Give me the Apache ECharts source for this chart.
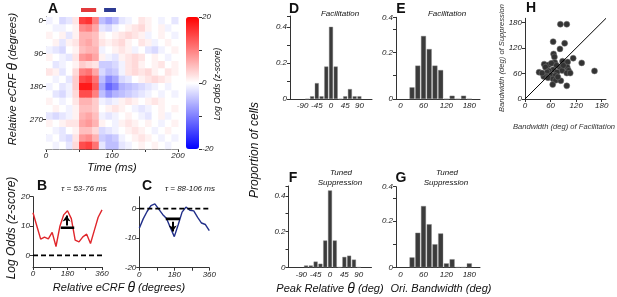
<!DOCTYPE html>
<html><head><meta charset="utf-8">
<script src="https://cdn.jsdelivr.net/npm/echarts@6.0.0/dist/echarts.min.js"></script>
<style>html,body{margin:0;padding:0;background:#fff}#c{width:617px;height:297px}</style>
</head><body><div id="c"></div>
<script>
// ---------- Panel A: heat map (rows = relative eCRF theta, columns = 10 ms time bins) ----------
const thetaRows = [0,20,40,60,80,100,120,140,160,180,200,220,240,260,280,300,320,340];
const timeBins = [0,10,20,30,40,50,60,70,80,90,100,110,120,130,140,150,160,170,180,190];
const heatValues = [
  [-1, 0,-3,-2, 2,15,16,10,-5,-7,-5,-2,-1, 0, 2, 1, 0,-1, 0,-2],
  [ 0,-1,-1, 0, 1, 9,10, 7,-2,-3,-1, 0, 1, 2, 3, 1, 0, 1,-1, 0],
  [ 1, 0, 1,-2, 1, 6, 6, 5, 1, 0, 1, 2, 3, 2, 1,-1, 0, 1, 0,-1],
  [ 0, 1,-2, 1, 2, 6, 7, 5, 2, 1, 2, 3, 1, 0, 2, 1,-1, 0, 1, 0],
  [-1,-2,-3, 0, 1, 5, 6, 6,-1, 0, 1, 2, 1,-1, 0,-2,-3,-1, 0, 1],
  [ 1, 0,-1,-2, 2, 8, 9, 7, 1,-1,-2, 1, 2, 3, 2, 0, 1, 0,-1, 0],
  [ 0,-2,-1, 0, 1, 4, 3, 2,-4,-4,-3,-1, 2, 3, 1, 0, 1, 2, 0, 1],
  [ 2, 1,-2, 0, 3,10,11, 7,-3,-5,-4,-1, 2, 3, 2, 3, 1, 0, 2, 1],
  [ 0,-1, 0,-2, 4,14,15,11,-5,-9,-7,-3,-2, 0, 1, 2, 3, 2, 1, 0],
  [-1, 0,-2,-1, 4,18,18,13,-7,-12,-10,-6,-5,-4,-3,-2,-1, 0,-1, 0],
  [ 0,-2,-3,-1, 3,14,14,10,-5,-8,-6,-5,-4,-3,-2,-1, 0,-1, 0,-1],
  [ 1, 0,-1, 0, 2, 6, 6, 4,-1,-2,-1, 1, 2, 1, 0, 1, 2, 1, 0, 0],
  [ 0, 1, 0,-1, 1, 5, 5, 4, 0, 1, 2, 1, 0,-1,-2,-1, 0, 1, 0, 1],
  [-2,-3,-2,-1, 1, 6, 7, 5,-1,-2,-1, 0, 1, 0,-1,-2, 0, 1,-1, 0],
  [ 1, 0, 1, 2, 2, 7, 8, 6, 1, 0,-1, 1, 2, 1, 0, 1, 0,-1, 0, 1],
  [ 0,-1,-2, 0, 1, 5, 5, 3,-3,-2,-1, 0, 1, 2, 1, 0,-1, 0, 1, 0],
  [-1, 0,-2,-3, 2, 8, 9, 6,-4,-5,-4,-1, 0, 1, 2, 1, 0,-1, 0,-1],
  [ 0,-1, 0,-2, 3,14,15,11,-2,-5,-5,-2,-1, 0, 1, 0, 1, 0,-1, 0]
];
const tauWindows = [[53,76],[88,106]];
const tauColors = ['#e23a3c','#2c3a92'];

// ---------- Panels B, C: tuning curves ----------
const tuningTheta = [0,20,40,60,80,100,120,140,160,180,200,220,240,260,280,300,320,340,360];
const tuningB = [14.5,10,5.5,6.2,5.6,7.8,3.0,9.8,13.8,15.2,12.5,5.2,4.6,6.3,7.2,4.0,8.5,13,15.5];
const tuningC = [-6.7,-3.5,-1,1,1.6,-0.2,-2,-3.4,-6.5,-9.5,-5.5,-1.2,0.5,-0.6,-0.8,-3,-4.9,-5.4,-7.5];
const bandB = [145,215,9.4];   // [theta from, theta to, level]
const arrowB = [175,10.2,13.6];// [theta, from, to]
const bandC = [136,209,-3.5];
const arrowC = [172,-4.5,-7.8];

// ---------- Panels D, F: peak relative theta histograms ----------
const peakBins = [-75,-60,-45,-30,-15,0,15,30,45,60,75,90];
const peakFacil = [0,0.015,0.088,0.015,0.18,0.40,0.18,0,0.015,0.055,0.015,0.015];
const peakSupp = [0.01,0.01,0.032,0.02,0.15,0.43,0.15,0,0.058,0.065,0.043,0];

// ---------- Panels E, G: bandwidth histograms ----------
const bwBins = [30,45,60,75,90,105,120,135,150,165,180];
const bwFacil = [0.05,0.143,0.27,0.214,0.143,0.124,0,0.014,0,0.014,0];
const bwSupp = [0.043,0.15,0.266,0.187,0.10,0.147,0.017,0.035,0,0,0.017];

// ---------- Panel H: scatter ----------
const bwFacX = [83,98,66,93,82,67,69,113,88,100,133,70,45,55,62,99,48,82,66,87,56,102,75,33,52,98,106,163,61,49,71,44,54,66,72,84,65,98,40,77,90,74];
const bwSupY = [176,176,135,131,118,106,99,96,89,87,85,86,82,80,84,75,75,75,69,67,66,67,63,63,63,61,61,66,56,54,55,53,50,47,44,43,34,31,61,52,79,79];
const diagonal = [0,190];

// ---------- build ----------
const FONT = '"Liberation Sans", Arial, sans-serif';
const INK = '#222';
function axis(o){
  const a = {
    type:'value', gridIndex:o.grid, min:o.min, max:o.max, inverse:!!o.inverse,
    position:o.position,
    axisLine:{show:o.line!==false,onZero:false,lineStyle:{color:'#333',width:1}},
    axisTick:{show:o.tick!==false,length:3,lineStyle:{color:'#333'}},
    axisLabel:{show:o.label!==false,fontFamily:FONT,fontStyle:'italic',fontSize:8,color:INK,margin:3},
    splitLine:{show:false}
  };
  if(o.interval!==undefined) a.interval=o.interval;
  if(o.labels) a.axisLabel.customValues=o.labels;
  if(o.ticks) a.axisTick.customValues=o.ticks;
  if(o.fmt) a.axisLabel.formatter=o.fmt;
  if(o.show===false) a.show=false;
  return a;
}
const heatData=[];
thetaRows.forEach((th,i)=>timeBins.forEach((t,j)=>heatData.push([t,th,heatValues[i][j]])));
const zip=(xs,ys)=>xs.map((x,i)=>[x,ys[i]]);

const grids=[
  {left:46,top:17,width:132,height:132},      //0 A
  {left:186,top:17,width:13,height:132},      //1 colorbar axis
  {left:33,top:196.7,width:69,height:70.3},   //2 B
  {left:139.3,top:196.7,width:70,height:71},  //3 C
  {left:290,top:16,width:82,height:83},       //4 D
  {left:396,top:17.3,width:84,height:81.7},   //5 E
  {left:288.5,top:186,width:83,height:81.3},  //6 F
  {left:396,top:186.7,width:84,height:80.6},  //7 G
  {left:525,top:18.3,width:81,height:80.7}    //8 H
];
const tenths = v => (Math.round(v*10)%2===0) ? String(Math.round(v*10)/10) : '';
const xAxes=[
  axis({grid:0,min:0,max:200,labels:[0,100,200],ticks:[0,50,100,150,200]}),
  axis({grid:1,min:0,max:1,show:false}),
  axis({grid:2,min:0,max:360,labels:[0,180,360],ticks:[0,90,180,270,360]}),
  axis({grid:3,min:0,max:360,labels:[0,180,360],ticks:[0,90,180,270,360]}),
  axis({grid:4,min:-130,max:130,labels:[-90,-45,0,45,90],tick:false}),
  axis({grid:5,min:-12,max:208,labels:[0,60,120,180],tick:false}),
  axis({grid:6,min:-130,max:130,labels:[-90,-45,0,45,90],tick:false}),
  axis({grid:7,min:-12,max:208,labels:[0,60,120,180],tick:false}),
  axis({grid:8,min:0,max:190,labels:[0,60,120,180],ticks:[0,60,120,180]})
];
const yAxes=[
  axis({grid:0,min:-10,max:350,inverse:true,labels:[0,90,180,270],ticks:[0,90,180,270]}),
  axis({grid:1,min:-20,max:20,position:'right',line:false,labels:[-20,0,20],ticks:[-20,-10,0,10,20]}),
  axis({grid:2,min:-4,max:20,labels:[0,10,20],ticks:[0,10,20]}),
  axis({grid:3,min:-20,max:4,labels:[-20,-10,0],ticks:[-20,-10,0]}),
  axis({grid:4,min:0,max:0.46,interval:0.1,fmt:tenths}),
  axis({grid:5,min:0,max:0.35,interval:0.1,fmt:tenths}),
  axis({grid:6,min:0,max:0.455,interval:0.1,fmt:tenths}),
  axis({grid:7,min:0,max:0.35,interval:0.1,fmt:tenths}),
  axis({grid:8,min:0,max:190,labels:[0,60,120,180],ticks:[0,60,120,180]})
];
function on(i){return {xAxisIndex:i,yAxisIndex:i};}
function lineS(i,data,color,width,type){
  return Object.assign({type:'line',data,symbol:'none',silent:true,animation:false,
    lineStyle:{color,width,type:type||'solid'}},on(i));
}
function arrowS(i,a){
  return Object.assign({type:'line',data:[],silent:true,animation:false,
    markLine:{silent:true,symbol:['none','arrow'],symbolSize:[6,6],label:{show:false},
      lineStyle:{color:'#000',width:2,type:'solid'},
      data:[[{coord:[a[0],a[1]]},{coord:[a[0],a[2]]}]]}},on(i));
}
function barS(i,xs,ys,w){
  return Object.assign({type:'bar',data:zip(xs,ys),barWidth:w,silent:true,animation:false,
    itemStyle:{color:'#3b3b3b',borderColor:'#8a8a8a',borderWidth:0.4}},on(i));
}
const series=[
  Object.assign({type:'custom',data:heatData,encode:{x:0,y:1},animation:false,silent:true,
    renderItem(p,api){
      const t=api.value(0),th=api.value(1);
      const a=api.coord([t,th-10]),b=api.coord([t+10,th+10]);
      return {type:'rect',shape:{x:a[0],y:Math.min(a[1],b[1]),width:b[0]-a[0]+0.5,height:Math.abs(b[1]-a[1])+0.5},
        style:{fill:api.visual('color')}};
    }},on(0)),
  Object.assign({type:'custom',data:tauWindows,clip:false,animation:false,silent:true,
    renderItem(p,api){
      const a=api.coord([api.value(0),-10]),b=api.coord([api.value(1),-10]);
      return {type:'rect',shape:{x:a[0],y:a[1]-9,width:b[0]-a[0],height:4},style:{fill:tauColors[p.dataIndex]}};
    }},on(0)),
  lineS(2,zip(tuningTheta,tuningB),'#e0262b',1.4),
  lineS(2,[[0,0],[360,0]],'#000',1.8,[5,3]),
  lineS(2,[[bandB[0],bandB[2]],[bandB[1],bandB[2]]],'#000',2.6),
  arrowS(2,arrowB),
  lineS(3,zip(tuningTheta,tuningC),'#22308a',1.4),
  lineS(3,[[0,0],[360,0]],'#000',1.8,[5,3]),
  lineS(3,[[bandC[0],bandC[2]],[bandC[1],bandC[2]]],'#000',2.6),
  arrowS(3,arrowC),
  barS(4,peakBins,peakFacil,4),
  barS(5,bwBins,bwFacil,5),
  barS(6,peakBins,peakSupp,4),
  barS(7,bwBins,bwSupp,5),
  lineS(8,[[diagonal[0],diagonal[0]],[diagonal[1],diagonal[1]]],'#000',1),
  Object.assign({type:'scatter',data:zip(bwFacX,bwSupY),symbolSize:6,silent:true,animation:false,
    itemStyle:{color:'#333',borderColor:'#777',borderWidth:0.5,opacity:1}},on(8))
];
function txt(x,y,text,size,opts){
  opts=opts||{};
  return {type:'text',x,y,rotation:opts.rot||0,silent:true,
    style:{text,fill:opts.color||'#111',font:(opts.bold?'bold ':'italic ')+size+'px '+FONT,
      align:'center',verticalAlign:'middle'}};
}
function thetaLabel(x,y,pre,post,size,rot){
  return {type:'text',x,y,rotation:rot||0,silent:true,
    style:{text:'{a|'+pre+'}{b|θ}{a|'+post+'}',align:'center',verticalAlign:'middle',fill:'#111',
      rich:{a:{fontFamily:FONT,fontStyle:'italic',fontSize:size,fill:'#111'},
            b:{fontFamily:FONT,fontStyle:'italic',fontSize:size+3,fill:'#111'}}}};
}
const R=Math.PI/2;
const graphic=[
  txt(53,9,'A',14,{bold:true}),
  txt(42,186,'B',14,{bold:true}),
  txt(147,186,'C',14,{bold:true}),
  txt(294,9,'D',14,{bold:true}),
  txt(401,9,'E',14,{bold:true}),
  txt(293,178,'F',14,{bold:true}),
  txt(401,178,'G',14,{bold:true}),
  txt(531,8,'H',14,{bold:true}),
  thetaLabel(13,79,'Relative eCRF ',' (degrees)',11,R),
  txt(112,168,'Time (ms)',11),
  txt(218,84,'Log Odds (z-score)',8.5,{rot:R}),
  txt(84,189,'τ = 53-76 ms',8),
  txt(190,189,'τ = 88-106 ms',8),
  txt(12,228,'Log Odds (z-score)',12,{rot:R}),
  thetaLabel(119,288,'Relative eCRF ',' (degrees)',11,0),
  txt(340,14,'Facilitation',8),
  txt(447,14,'Facilitation',8),
  txt(341,173,'Tuned',8),
  txt(340,182.5,'Suppression',8),
  txt(447,173,'Tuned',8),
  txt(446,182.5,'Suppression',8),
  txt(255,150,'Proportion of cells',12,{rot:R}),
  thetaLabel(330,289,'Peak Relative ',' (deg)',11,0),
  txt(441,289,'Ori. Bandwidth (deg)',11),
  txt(502,58,'Bandwidth (deg) of Suppression',7.6,{rot:R,color:'#333'}),
  txt(564,127,'Bandwidth (deg) of Facilitation',7.6,{color:'#333'})
];
const chart=echarts.init(document.getElementById('c'),null,{renderer:'canvas'});
chart.setOption({
  animation:false,
  grid:grids,
  xAxis:xAxes,
  yAxis:yAxes,
  visualMap:{type:'continuous',seriesIndex:0,dimension:2,min:-20,max:20,calculable:false,
    left:186,top:17,itemWidth:13,itemHeight:132,padding:0,text:null,
    inRange:{color:['#0000ff','#ffffff','#ff0000']}},
  series,
  graphic
});
</script></body></html>
